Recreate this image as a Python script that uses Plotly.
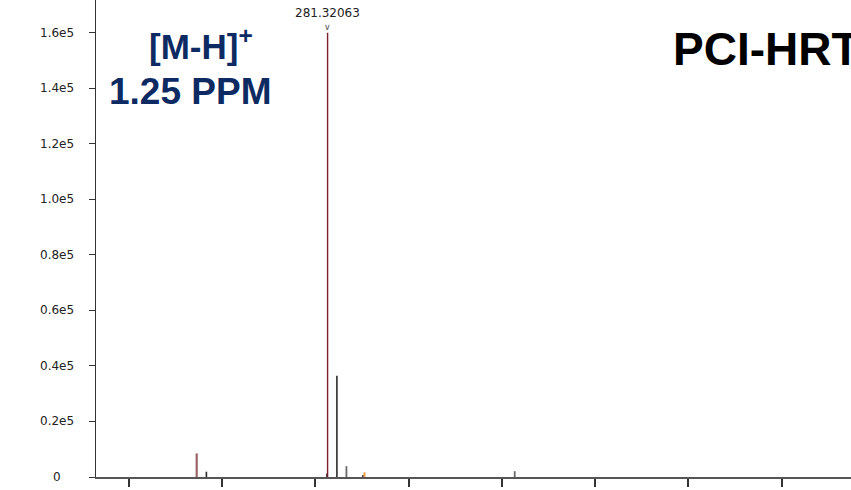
import plotly.graph_objects as go

# Centroided mass spectrum peaks (m/z, intensity), grouped by trace colour
main_mz = [281.32063]
main_int = [160000]

rose_mz = [267.29]
rose_int = [8500]

dark_mz = [268.33, 281.25, 282.32, 285.11]
dark_int = [1900, 1300, 36500, 700]

grey_mz = [283.34, 301.38]
grey_int = [3900, 2100]

orange_mz = [285.28]
orange_int = [1700]

x_ticks = [260, 270, 280, 290, 300, 310, 320, 330]
y_ticks = [0, 20000, 40000, 60000, 80000, 100000, 120000, 140000, 160000]
y_tick_text = ["0", "0.2e5", "0.4e5", "0.6e5", "0.8e5", "1.0e5", "1.2e5", "1.4e5", "1.6e5"]

peak_label = "281.32063"
ion_label = "[M-H]<sup>+</sup>"
ppm_label = "1.25 PPM"
method_label = "PCI-HRT"


def stick_xy(mz, inten):
    xs, ys = [], []
    for m, h in zip(mz, inten):
        xs += [m, m, None]
        ys += [0, h, None]
    return xs, ys


fig = go.Figure()
for mz, inten, color, width in [
    (rose_mz, rose_int, "#9a6468", 2.2),
    (dark_mz, dark_int, "#2a2a2a", 1.6),
    (grey_mz, grey_int, "#6a6a6a", 1.8),
    (orange_mz, orange_int, "#f0a048", 2.0),
    (main_mz, main_int, "#7a1e2c", 1.4),
]:
    xs, ys = stick_xy(mz, inten)
    fig.add_trace(go.Scatter(x=xs, y=ys, mode="lines",
                             line=dict(color=color, width=width),
                             hoverinfo="skip", showlegend=False))

annotations = []
# y tick labels, centred in the left gutter
for v, t in zip(y_ticks, y_tick_text):
    annotations.append(dict(x=0, y=v, xref="paper", yref="y", text=t,
                            showarrow=False, xanchor="center", yanchor="middle",
                            xshift=-39, font=dict(family="DejaVu Sans", size=12, color="#222")))

# peak apex label with caret marker just above the apex
annotations.append(dict(x=main_mz[0], y=main_int[0], xref="x", yref="y", text=peak_label,
                        showarrow=False, xanchor="center", yanchor="bottom", yshift=11,
                        font=dict(family="DejaVu Sans", size=12, color="#222")))
annotations.append(dict(x=main_mz[0], y=main_int[0], xref="x", yref="y", text="∨",
                        showarrow=False, xanchor="center", yanchor="middle", yshift=6,
                        font=dict(family="DejaVu Sans", size=9, color="#555")))

fig.update_layout(
    width=851, height=490,
    margin=dict(l=96, r=0, t=0, b=13),
    paper_bgcolor="white", plot_bgcolor="white",
    xaxis=dict(range=[256.495, 337.43], tickvals=x_ticks, showticklabels=False,
               ticks="outside", ticklen=8, tickwidth=1.5, tickcolor="#333",
               showline=True, linecolor="#555", linewidth=2,
               showgrid=False, zeroline=False, fixedrange=True),
    yaxis=dict(range=[0, 171800], tickvals=y_ticks, showticklabels=False,
               ticks="outside", ticklen=6, tickwidth=1.2, tickcolor="#333",
               showline=True, linecolor="#333", linewidth=1.3,
               showgrid=False, zeroline=False, fixedrange=True),
    annotations=annotations,
)

# Headline texts, positioned in paper coordinates of the 851x490 page
plot_w = 851 - 96
plot_h = 490 - 13


def px_to_paper(px, py):
    return (px - 96) / plot_w, (490 - 13 - py) / plot_h


for text, (cx, cy), size, color, anchor in [
    (ion_label, (201, 44), 35, "#0d2a63", "center"),
    (ppm_label, (190, 91), 37, "#0d2a63", "center"),
    (method_label, (671, 49), 46, "#000000", "left"),
]:
    px, py = px_to_paper(cx, cy)
    fig.add_annotation(x=px, y=py, xref="paper", yref="paper", text=f"<b>{text}</b>",
                       showarrow=False, xanchor=anchor, yanchor="middle",
                       font=dict(family="Liberation Sans", size=size, color=color))

fig.write_html("out.html")
